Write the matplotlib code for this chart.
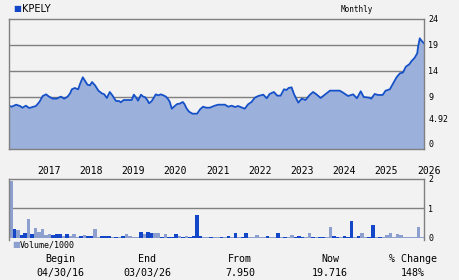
import matplotlib.pyplot as plt
import numpy as np

# price line (decimal year, price)
price_t = [2016.33, 2016.39, 2016.50, 2016.59, 2016.65, 2016.73, 2016.81, 2016.89, 2016.97,
           2017.05, 2017.13, 2017.21, 2017.28, 2017.37, 2017.46, 2017.56, 2017.64, 2017.72,
           2017.78, 2017.82, 2017.89, 2017.97, 2018.02, 2018.08, 2018.13, 2018.19, 2018.25,
           2018.30, 2018.37, 2018.45, 2018.53, 2018.59, 2018.65, 2018.72, 2018.78, 2018.84,
           2018.87, 2018.94, 2018.98, 2019.05, 2019.16, 2019.24, 2019.29, 2019.34, 2019.39,
           2019.46, 2019.51, 2019.56, 2019.62, 2019.65, 2019.71, 2019.77, 2019.81, 2019.87,
           2019.93, 2019.99, 2020.05, 2020.10, 2020.14, 2020.19, 2020.26, 2020.32, 2020.38,
           2020.45, 2020.49, 2020.54, 2020.60, 2020.68, 2020.79, 2020.86, 2020.93, 2021.01,
           2021.09, 2021.21, 2021.29, 2021.45, 2021.53, 2021.61, 2021.69, 2021.76, 2021.84,
           2021.92, 2022.00, 2022.08, 2022.16, 2022.24, 2022.36, 2022.44, 2022.51, 2022.61,
           2022.69, 2022.77, 2022.85, 2022.91, 2022.96, 2023.03, 2023.09, 2023.19, 2023.27,
           2023.36, 2023.46, 2023.54, 2023.62, 2023.72, 2023.80, 2023.86, 2023.94, 2024.17,
           2024.25, 2024.37, 2024.49, 2024.58, 2024.67, 2024.74, 2024.87, 2024.92, 2025.00,
           2025.08, 2025.19, 2025.26, 2025.36, 2025.44, 2025.52, 2025.60, 2025.67, 2025.74,
           2025.82, 2025.87, 2025.95, 2026.01, 2026.03, 2026.07, 2026.11, 2026.17]
price_v = [7.33, 7.13, 7.52, 7.27, 6.94, 7.33, 6.88, 7.07, 7.27,
           8.04, 9.19, 9.51, 9.07, 8.68, 8.68, 9.07, 8.68, 9.07,
           9.71, 10.48, 10.73, 10.48, 11.63, 12.79, 12.14, 11.37, 11.24,
           11.88, 11.24, 10.22, 9.71, 9.51, 8.81, 9.96, 9.32, 8.56,
           8.23, 8.23, 7.98, 8.42, 8.42, 8.42, 9.45, 8.94, 8.30,
           9.45, 9.07, 8.94, 8.30, 7.79, 8.17, 8.94, 9.51, 9.32,
           9.51, 9.32, 9.07, 8.62, 8.10, 6.75, 7.27, 7.65, 7.72,
           8.04, 7.65, 6.81, 6.17, 5.79, 5.79, 6.62, 7.13, 6.94,
           6.94, 7.33, 7.52, 7.52, 7.13, 7.33, 7.07, 7.27, 7.00,
           6.75, 7.60, 8.04, 8.87, 9.19, 9.45, 8.75, 9.58, 9.96,
           9.26, 9.26, 10.48, 10.35, 10.73, 10.86, 9.51, 7.91, 8.68,
           8.42, 9.39, 9.96, 9.51, 8.81, 9.32, 9.71, 10.22, 10.22,
           9.84, 9.19, 9.51, 8.75, 10.10, 9.00, 8.87, 8.68, 9.58,
           9.39, 9.39, 10.22, 10.48, 11.63, 12.79, 13.56, 13.69, 14.83,
           15.28, 15.86, 16.56, 17.40, 18.68, 20.29, 19.83, 19.33]

# monthly volume / 1000 and whether the month closed up (dark bar)
vol = [1.93, 0.31, 0.27, 0.11, 0.17, 0.64, 0.14, 0.34, 0.20, 0.31,
       0.10, 0.14, 0.10, 0.14, 0.14, 0.07, 0.14, 0.07, 0.14, 0.03,
       0.07, 0.10, 0.07, 0.07, 0.31, 0.03, 0.07, 0.07, 0.07, 0.03,
       0.03, 0.03, 0.07, 0.14, 0.07, 0.02, 0.03, 0.20, 0.14, 0.20,
       0.17, 0.17, 0.17, 0.03, 0.14, 0.03, 0.03, 0.14, 0.07, 0.03,
       0.07, 0.03, 0.07, 0.78, 0.07, 0.03, 0.03, 0.03, 0.03, 0.03,
       0.03, 0.03, 0.07, 0.03, 0.17, 0.03, 0.03, 0.17, 0.03, 0.03,
       0.10, 0.03, 0.03, 0.07, 0.03, 0.03, 0.17, 0.03, 0.03, 0.03,
       0.10, 0.03, 0.07, 0.03, 0.03, 0.17, 0.03, 0.03, 0.03, 0.03,
       0.03, 0.37, 0.07, 0.03, 0.03, 0.07, 0.03, 0.58, 0.03, 0.07,
       0.17, 0.03, 0.03, 0.44, 0.03, 0.03, 0.03, 0.10, 0.17, 0.03,
       0.14, 0.10, 0.03, 0.03, 0.03, 0.03, 0.37, 0.03, 0.07]
up = [0, 1, 0, 1, 1, 0, 1, 0, 0, 0,
      0, 0, 1, 1, 1, 0, 1, 0, 0, 0,
      1, 0, 1, 1, 0, 0, 1, 1, 1, 0,
      1, 0, 1, 0, 0, 0, 0, 1, 0, 1,
      1, 0, 0, 1, 0, 1, 1, 1, 0, 1,
      0, 1, 1, 1, 1, 0, 0, 1, 0, 0,
      1, 0, 1, 0, 1, 0, 1, 1, 0, 0,
      0, 0, 0, 1, 0, 0, 1, 0, 1, 0,
      0, 1, 1, 1, 0, 0, 1, 0, 1, 1,
      0, 0, 1, 1, 0, 1, 1, 1, 0, 1,
      0, 0, 1, 1, 0, 1, 0, 0, 0, 0,
      0, 0, 0, 0, 0, 0, 0, 0, 0]
vol_start = 2016.33

years = list(range(2017, 2027))
price_ticks = [0, 4.92, 9, 14, 19, 24]
price_grid = [9, 14, 19]

ticker = "KPELY"
footer_heads = ["Begin", "End", "From", "Now", "% Change"]
footer_vals = ["04/30/16", "03/03/26", "7.950", "19.716", "148%"]

bg = "#f2f2f2"
line_c = "#1450c8"
fill_c = "#9cb0dc"
dark_c = "#1447c8"
light_c = "#8c9fcf"
edge_c = "#808080"
mono = "DejaVu Sans Mono"

fig = plt.figure(figsize=(4.6, 2.8), dpi=100, facecolor=bg)

# price panel
ax = fig.add_axes([9/460, 1 - 149/280, 415/460, 130/280], facecolor=bg)
ax.fill_between(price_t, price_v, -1, color=fill_c, lw=0)
ax.plot(price_t, price_v, color=line_c, lw=1.3)
for g in price_grid:
    ax.axhline(g, color=edge_c, lw=1, zorder=0)
ax.set_xlim(2016.33, 2026.17)
ax.set_ylim(-1, 24)
ax.yaxis.tick_right()
ax.set_yticks(price_ticks)
ax.set_yticklabels(["0", "4.92", "9", "14", "19", "24"], fontsize=6, family=mono)
ax.set_xticks(years)
ax.set_xticklabels([str(y) for y in years], fontsize=7, family=mono, ha="left")
ax.tick_params(axis="x", length=0, pad=12)
ax.tick_params(axis="y", length=0, pad=3)
for s in ax.spines.values():
    s.set_color(edge_c)
    s.set_linewidth(1)

# volume panel
av = fig.add_axes([9/460, 1 - 240/280, 415/460, 61/280], facecolor=bg)
vx = [vol_start + i / 12 for i in range(len(vol))]
cols = [dark_c if u else light_c for u in up]
av.bar(vx, vol, width=1/12, align="edge", color=cols, lw=0, bottom=0)
av.axhline(1, color=edge_c, lw=1, zorder=0)
av.set_xlim(2016.33, 2026.17)
av.set_ylim(-0.07, 2)
av.yaxis.tick_right()
av.set_yticks([0, 1, 2])
av.set_yticklabels(["0", "1", "2"], fontsize=6, family=mono)
av.set_xticks([])
av.tick_params(axis="y", length=0, pad=3)
for k, s in av.spines.items():
    s.set_color(edge_c)
    s.set_linewidth(1)
av.spines["bottom"].set_visible(False)

# legends / headers
fig.text(13/460, 1 - 9/280, "\u25a0", color=dark_c, fontsize=6, va="center", ha="left")
fig.text(22/460, 1 - 9/280, ticker, fontsize=7, va="center", ha="left", color="black")
fig.text(357/460, 1 - 9/280, "Monthly", fontsize=5.5, family=mono, va="center", ha="center")
fig.text(12/460, 1 - 245/280, "\u25a0", color=light_c, fontsize=6, va="center", ha="left")
fig.text(20/460, 1 - 245/280, "Volume/1000", fontsize=6, family=mono, va="center", ha="left")

# footer
footer_x = [60, 147, 240, 330, 413]
for fx, h, v in zip(footer_x, footer_heads, footer_vals):
    fig.text(fx/460, 1 - 259/280, h, fontsize=7.2, family=mono, ha="center", va="center")
    fig.text(fx/460, 1 - 273/280, v, fontsize=7.2, family=mono, ha="center", va="center")

fig.savefig("out.png", dpi=100, facecolor=bg)
